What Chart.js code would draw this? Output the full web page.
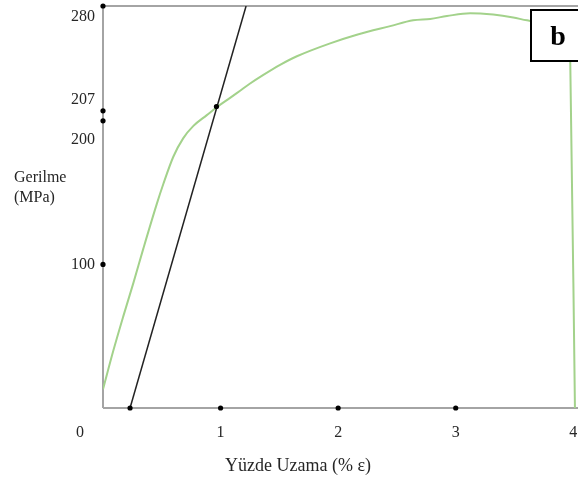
<!DOCTYPE html>
<html>
<head>
<meta charset="utf-8">
<script src="https://cdn.jsdelivr.net/npm/chart.js@4"></script>
<style>
html,body{margin:0;padding:0;background:#fff;}
#wrap{width:578px;height:490px;position:relative;}
</style>
</head>
<body>
<div id="wrap"><canvas id="c" width="578" height="490"></canvas></div>
<script>
// Stress-strain curve (green)
const strain = [0, 0.088, 0.173, 0.258, 0.343, 0.457, 0.513, 0.598, 0.683, 0.769, 0.883, 0.968, 1.081, 1.166, 1.251, 1.364, 1.506, 1.649, 1.932, 2.159, 2.443, 2.638, 2.783, 2.925, 3.123, 3.319, 3.489, 3.606, 3.80, 3.96, 3.974, 4.014];
const stress = [13, 40, 64, 87, 111, 142, 156, 175, 188, 196.5, 204, 209.5, 216, 221, 226, 232, 239, 245, 254, 260, 266, 270, 271, 273, 275, 274, 272, 270, 268, 265, 242, 0];
// 0.2% offset line (black)
const offsetStrain = [0.23, 1.217];
const offsetStress = [0, 280];
// Axis tick marks
const xTickValues = [0.23, 1, 2, 3];
const xTickLabels = ['0', '1', '2', '3', '4'];
const xTickLabelValues = [0, 1, 2, 3, 4];
const yTickValues = [280, 207, 200, 100];
const yTickLabels = ['280', '207', '200', '100'];
// Yield point
const yieldStrain = [0.965];
const yieldStress = [210];

const toXY = (xs, ys) => xs.map((x, i) => ({x: x, y: ys[i]}));

const serif = "'Liberation Serif', 'Times New Roman', serif";
const textColor = '#262626';

const decor = {
  id: 'decor',
  beforeDatasetsDraw(chart) {
    const {ctx, chartArea: a} = chart;
    ctx.save();
    ctx.strokeStyle = '#a4a4a4';
    ctx.lineWidth = 2;
    ctx.beginPath();
    ctx.moveTo(a.left, a.bottom);
    ctx.lineTo(a.left, a.top);
    ctx.lineTo(a.right + 2, a.top);
    ctx.moveTo(a.left, a.bottom);
    ctx.lineTo(a.right + 2, a.bottom);
    ctx.stroke();
    ctx.restore();
  },
  afterDraw(chart) {
    const {ctx, scales} = chart;
    const xs = scales.x, ys = scales.y;
    ctx.save();
    ctx.fillStyle = textColor;
    ctx.font = '16px ' + serif;
    // y tick labels
    const yOff = {'280': 11, '207': -11, '200': 19, '100': 0};
    ctx.textAlign = 'right';
    ctx.textBaseline = 'middle';
    yTickLabels.forEach((t, i) => {
      ctx.fillText(t, 95, ys.getPixelForValue(yTickValues[i]) + (yOff[t] || 0));
    });
    // x tick labels
    ctx.textAlign = 'center';
    xTickLabels.forEach((t, i) => {
      const dx = t === '0' ? -23 : 0;
      ctx.fillText(t, xs.getPixelForValue(xTickLabelValues[i]) + dx, 433);
    });
    // axis titles
    ctx.font = '16px ' + serif;
    ctx.textAlign = 'left';
    ctx.fillText('Gerilme', 14, 178);
    ctx.fillText('(MPa)', 14, 198);
    ctx.font = '18px ' + serif;
    ctx.textAlign = 'center';
    ctx.fillText('Yüzde Uzama (% \u03b5)', 298, 466);
    // panel label box
    ctx.fillStyle = '#fff';
    ctx.fillRect(531, 10, 60, 51);
    ctx.strokeStyle = '#000';
    ctx.lineWidth = 2;
    ctx.strokeRect(531, 10, 60, 51);
    ctx.fillStyle = '#000';
    ctx.font = 'bold 28px ' + serif;
    ctx.textAlign = 'center';
    ctx.textBaseline = 'middle';
    ctx.fillText('b', 558, 38);
    ctx.restore();
  }
};

const dotStyle = {
  type: 'scatter', showLine: false, pointRadius: 2.6, pointBackgroundColor: '#000',
  pointBorderWidth: 0, clip: false
};

new Chart(document.getElementById('c'), {
  type: 'scatter',
  data: {
    datasets: [
      {
        data: toXY(strain, stress), showLine: true, borderColor: '#a3d28b',
        borderWidth: 2, pointRadius: 0, cubicInterpolationMode: 'monotone', fill: false, order: 3
      },
      {
        data: toXY(offsetStrain, offsetStress), showLine: true, borderColor: '#222',
        borderWidth: 1.5, pointRadius: 0, fill: false, order: 2
      },
      Object.assign({data: xTickValues.map(v => ({x: v, y: 0})), order: 1}, dotStyle),
      Object.assign({data: yTickValues.map(v => ({x: 0, y: v})), order: 1}, dotStyle),
      Object.assign({data: toXY(yieldStrain, yieldStress), order: 1}, dotStyle)
    ]
  },
  options: {
    responsive: false,
    animation: false,
    devicePixelRatio: 1,
    layout: {autoPadding: false, padding: {left: 103, top: 6, right: 0, bottom: 82}},
    plugins: {legend: {display: false}, tooltip: {enabled: false}},
    scales: {
      x: {type: 'linear', min: 0, max: 4.04, display: false},
      y: {type: 'linear', min: 0, max: 280, display: false}
    }
  },
  plugins: [decor]
});
</script>
</body>
</html>
